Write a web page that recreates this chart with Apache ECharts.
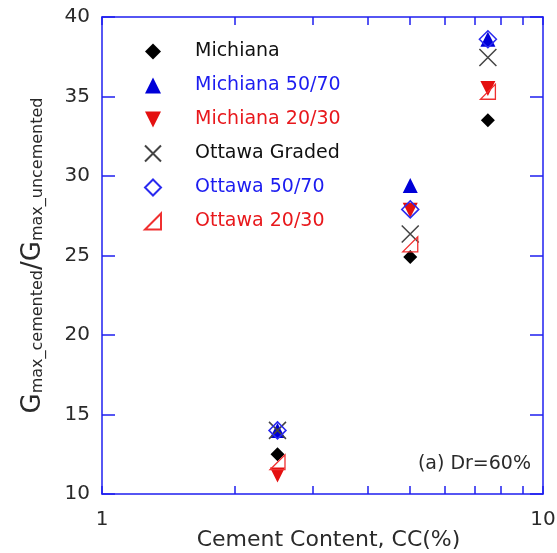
<!DOCTYPE html>
<html>
<head>
<meta charset="utf-8">
<title>Gmax ratio vs cement content</title>
<script src="https://cdn.jsdelivr.net/npm/echarts@6.0.0/dist/echarts.min.js"></script>
<style>
  html, body { margin: 0; padding: 0; background: #ffffff; }
  #chart { width: 557px; height: 553px; }
</style>
</head>
<body>
<div id="chart"></div>
<script>
// Cement content (%) at which each specimen group was tested
const cementContent = [2.5, 5, 7.5];

// Gmax,cemented / Gmax,uncemented for each sand
const michiana      = [12.5, 24.9, 33.5];
const michiana5070  = [14.0, 29.4, 38.6];
const michiana2030  = [11.2, 27.85, 35.5];
const ottawaGraded  = [14.0, 26.35, 37.45];
const ottawa5070    = [14.0, 27.9, 38.6];
const ottawa2030    = [12.0, 25.7, 35.3];

// Axis ticks
const xMinorTicks = [1, 2, 3, 4, 5, 6, 7, 8, 9, 10];
const xLabels = [1, 10];
const yMin = 10, yMax = 40, yStep = 5;

const FONT = 'DejaVu Sans';
const AXIS_BLUE = '#1f1ff0';
const BLUE = '#0000d8';
const RED = '#e41010';
const TEXT_BLUE = '#1c1cf0';
const TEXT_RED = '#e8181c';

const pairs = vals => cementContent.map((x, i) => [x, vals[i]]);

const seriesDefs = [
  { name: 'Michiana', data: michiana, symbol: 'diamond', size: 14,
    itemStyle: { color: '#000000', opacity: 1 }, text: '#111111' },
  { name: 'Michiana 50/70', data: michiana5070, symbol: 'triangle', size: 15,
    itemStyle: { color: BLUE, opacity: 1 }, text: TEXT_BLUE },
  { name: 'Michiana 20/30', data: michiana2030, symbol: 'triangle', size: 15, rotate: 180,
    legendIcon: 'path://M0,0L10,0L5,10Z',
    itemStyle: { color: RED, opacity: 1 }, text: TEXT_RED },
  { name: 'Ottawa Graded', data: ottawaGraded, symbol: 'path://M0,0L10,10M10,0L0,10', size: 17,
    itemStyle: { color: 'transparent', borderColor: '#444444', borderWidth: 1.5, opacity: 1 }, text: '#111111' },
  { name: 'Ottawa 50/70', data: ottawa5070, symbol: 'diamond', size: 17,
    itemStyle: { color: 'transparent', borderColor: '#2a2af0', borderWidth: 1.5, opacity: 1 }, text: TEXT_BLUE },
  { name: 'Ottawa 20/30', data: ottawa2030, symbol: 'path://M10,0L10,10L0,10Z', size: 15,
    itemStyle: { color: 'transparent', borderColor: '#f03030', borderWidth: 1.3, opacity: 1 }, text: TEXT_RED }
];

const logAxisBase = {
  type: 'log',
  logBase: 10,
  min: 1,
  max: 10,
  axisLine: { show: true, lineStyle: { color: AXIS_BLUE, width: 1.5 } },
  axisTick: { show: true, inside: true, length: 8, customValues: xMinorTicks,
              lineStyle: { color: AXIS_BLUE, width: 1.5 } },
  splitLine: { show: false },
  minorTick: { show: false }
};

const valueAxisBase = {
  type: 'value',
  min: yMin,
  max: yMax,
  interval: yStep,
  axisLine: { show: true, lineStyle: { color: AXIS_BLUE, width: 1.5 } },
  axisTick: { show: true, inside: true, length: 13, lineStyle: { color: AXIS_BLUE, width: 1.5 } },
  splitLine: { show: false }
};

const chart = echarts.init(document.getElementById('chart'), null, { renderer: 'canvas' });

chart.setOption({
  backgroundColor: '#ffffff',
  animation: false,
  grid: { left: 102, right: 14, top: 17, bottom: 59, containLabel: false, outerBoundsMode: 'none' },
  xAxis: [
    Object.assign({}, logAxisBase, {
      position: 'bottom',
      name: 'Cement Content, CC(%)',
      nameLocation: 'middle',
      nameGap: 35,
      nameMoveOverlap: false,
      nameTextStyle: { fontFamily: FONT, fontSize: 22, color: '#2a2a2a', padding: [0, 0, 0, 12] },
      axisLabel: { show: true, margin: 16, customValues: xLabels,
                   fontFamily: FONT, fontSize: 20, color: '#2a2a2a' }
    }),
    Object.assign({}, logAxisBase, {
      position: 'top',
      axisLabel: { show: false }
    })
  ],
  yAxis: [
    Object.assign({}, valueAxisBase, {
      position: 'left',
      name: '{g|G}{s|max_cemented}{g|/G}{s|max_uncemented}',
      nameLocation: 'middle',
      nameRotate: 90,
      nameGap: 56,
      nameTextStyle: {
        color: '#2a2a2a',
        rich: {
          g: { fontFamily: FONT, fontSize: 26, color: '#2a2a2a', verticalAlign: 'bottom', lineHeight: 30 },
          s: { fontFamily: FONT, fontSize: 16, color: '#2a2a2a', verticalAlign: 'bottom', lineHeight: 30 }
        }
      },
      axisLabel: { show: true, margin: 12, fontFamily: FONT, fontSize: 20, color: '#2a2a2a' }
    }),
    Object.assign({}, valueAxisBase, {
      position: 'right',
      axisLabel: { show: false }
    })
  ],
  legend: {
    orient: 'vertical',
    left: 139,
    top: 37,
    itemWidth: 16,
    itemHeight: 16,
    itemGap: 15,
    formatter: name => '{gap|}' + name,
    textStyle: {
      fontFamily: FONT,
      fontSize: 19,
      lineHeight: 19,
      rich: { gap: { width: 29, fontSize: 19, lineHeight: 19 } }
    },
    data: seriesDefs.map(d => {
      const item = { name: d.name, textStyle: { color: d.text } };
      if (d.legendIcon) item.icon = d.legendIcon;
      return item;
    })
  },
  graphic: [
    {
      type: 'text',
      x: 531,
      y: 464,
      style: {
        text: '(a) Dr=60%',
        fontFamily: FONT,
        fontSize: 19,
        fill: '#2a2a2a',
        align: 'right',
        verticalAlign: 'middle'
      }
    }
  ],
  series: seriesDefs.map(d => ({
    name: d.name,
    type: 'scatter',
    xAxisIndex: 0,
    yAxisIndex: 0,
    symbol: d.symbol,
    symbolSize: d.size,
    symbolRotate: d.rotate || 0,
    itemStyle: d.itemStyle,
    emphasis: { disabled: true },
    data: pairs(d.data)
  }))
});
</script>
</body>
</html>
